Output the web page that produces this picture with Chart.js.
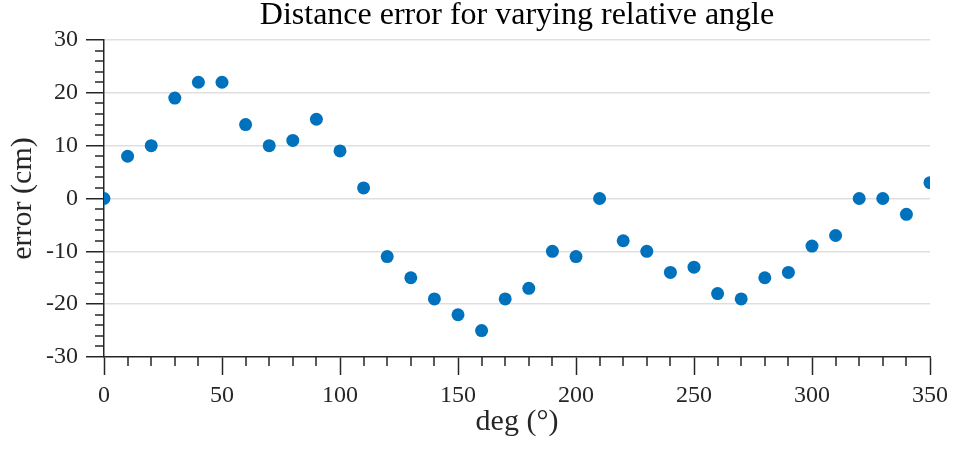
<!DOCTYPE html>
<html>
<head>
<meta charset="utf-8">
<script src="https://cdn.jsdelivr.net/npm/chart.js@4.4.1/dist/chart.umd.min.js"></script>
<style>
  html, body { margin: 0; padding: 0; background: #fff; }
  #wrap { width: 954px; height: 450px; }
</style>
</head>
<body>
<div id="wrap"><canvas id="chart"></canvas></div>
<script>
// angle sweep (deg) and the measured distance error (cm)
const angles = [0, 10, 20, 30, 40, 50, 60, 70, 80, 90, 100, 110, 120, 130, 140, 150, 160, 170,
  180, 190, 200, 210, 220, 230, 240, 250, 260, 270, 280, 290, 300, 310, 320, 330, 340, 350];
const errors = [0, 8, 10, 19, 22, 22, 14, 10, 11, 15, 9, 2, -11, -15, -19, -22, -25, -19,
  -17, -10, -11, 0, -8, -10, -14, -13, -18, -19, -15, -14, -9, -7, 0, 0, -3, 3];

const xTicks = [0, 50, 100, 150, 200, 250, 300, 350];
const yTicks = [-30, -20, -10, 0, 10, 20, 30];
const titleText = 'Distance error for varying relative angle';

const SERIF = "'Liberation Serif', 'DejaVu Serif', serif";
const AXIS = '#262626';

// matlab-style minor ticks outside the axes, plus a title centred on the plot box
const axesExtras = {
  id: 'axesExtras',
  afterDraw(chart) {
    const { ctx, chartArea, scales } = chart;
    ctx.save();
    ctx.strokeStyle = AXIS;
    ctx.lineWidth = 1.5;
    ctx.beginPath();
    for (let v = 10; v < 350; v += 10) {
      if (v % 50 === 0) continue;
      const px = Math.round(scales.x.getPixelForValue(v));
      ctx.moveTo(px, chartArea.bottom);
      ctx.lineTo(px, chartArea.bottom + 9);
    }
    for (let v = -28; v < 30; v += 2) {
      if (v % 10 === 0) continue;
      const py = Math.round(scales.y.getPixelForValue(v));
      ctx.moveTo(chartArea.left - 9, py);
      ctx.lineTo(chartArea.left, py);
    }
    ctx.stroke();

    ctx.fillStyle = '#000';
    ctx.font = '32px ' + SERIF;
    ctx.textAlign = 'center';
    ctx.textBaseline = 'middle';
    ctx.fillText(titleText, (chartArea.left + chartArea.right) / 2, 16);
    ctx.restore();
  }
};

new Chart(document.getElementById('chart'), {
  type: 'scatter',
  data: {
    datasets: [{
      data: angles.map((a, i) => ({ x: a, y: errors[i] })),
      backgroundColor: '#0072BD',
      borderWidth: 0,
      pointRadius: 6.5,
      pointHoverRadius: 6.5,
    }]
  },
  options: {
    responsive: true,
    maintainAspectRatio: false,
    animation: false,
    events: [],
    layout: { padding: { left: 0, right: 23, top: 40, bottom: 0 } },
    plugins: {
      legend: { display: false },
      tooltip: { enabled: false },
      title: { display: false },
    },
    scales: {
      x: {
        type: 'linear',
        min: 0,
        max: 350,
        afterBuildTicks: (s) => { s.ticks = xTicks.map((v) => ({ value: v })); },
        afterFit: (s) => { s.height = 93; },
        grid: {
          drawOnChartArea: false,
          drawTicks: true,
          tickLength: 18,
          tickColor: AXIS,
          tickWidth: 1.5,
        },
        border: { color: AXIS, width: 1.5 },
        ticks: {
          color: '#262626',
          padding: 6,
          maxRotation: 0,
          font: { family: SERIF, size: 24 },
        },
        title: {
          display: true,
          text: 'deg (°)',
          color: '#262626',
          font: { family: SERIF, size: 30 },
          padding: { top: 0, bottom: 10 },
        },
      },
      y: {
        min: -30,
        max: 30,
        afterBuildTicks: (s) => { s.ticks = yTicks.map((v) => ({ value: v })); },
        afterFit: (s) => { s.width = 104; },
        grid: {
          color: (c) => (c.tick && c.tick.value === -30 ? 'rgba(0,0,0,0)' : '#dfdfdf'),
          lineWidth: 1.5,
          drawTicks: true,
          tickLength: 18,
          tickColor: AXIS,
          tickWidth: 1.5,
        },
        border: { color: AXIS, width: 1.5 },
        ticks: {
          color: '#262626',
          padding: 8,
          font: { family: SERIF, size: 24 },
        },
        title: {
          display: true,
          text: 'error (cm)',
          color: '#262626',
          font: { family: SERIF, size: 30 },
          padding: { top: 5, bottom: 0 },
        },
      },
    },
  },
  plugins: [axesExtras],
});
</script>
</body>
</html>
